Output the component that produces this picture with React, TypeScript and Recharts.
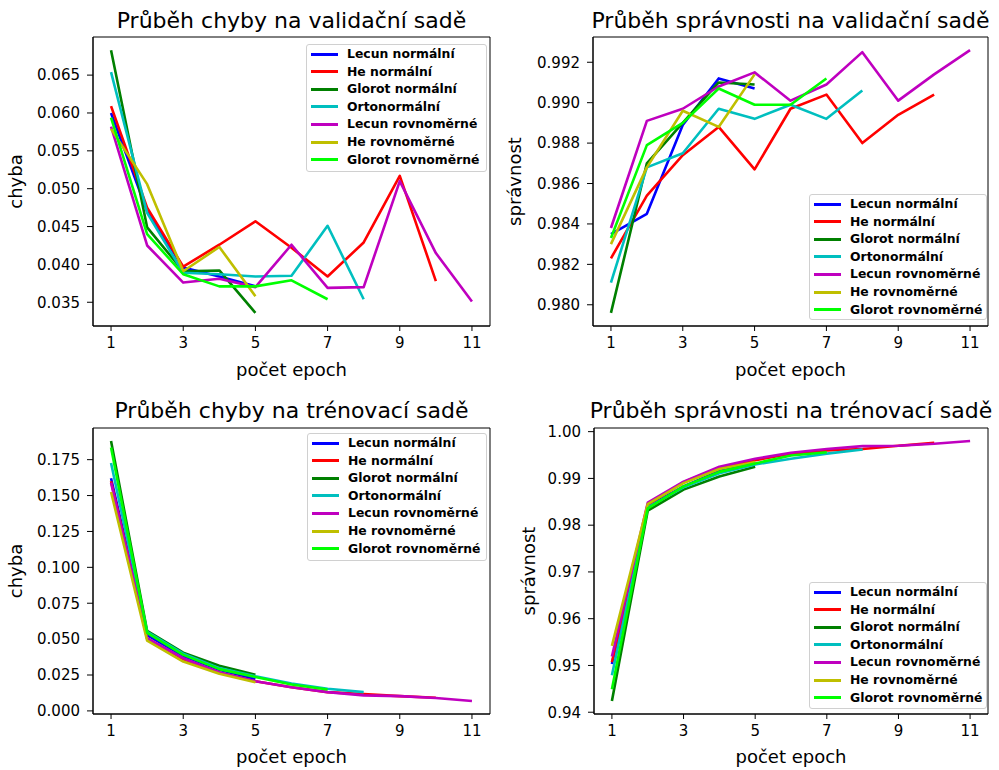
import React from 'react';
import { LineChart, Line, XAxis, YAxis, Legend, ReferenceArea } from 'recharts';

// ---------- categories / labels ----------
const EPOCHS = [1, 2, 3, 4, 5, 6, 7, 8, 9, 10, 11];
const X_TICKS = [1, 3, 5, 7, 9, 11];
const SERIES_NAMES = [
  'Lecun normální',
  'He normální',
  'Glorot normální',
  'Ortonormální',
  'Lecun rovnoměrné',
  'He rovnoměrné',
  'Glorot rovnoměrné',
];
const SERIES_COLORS = ['#0000ff', '#ff0000', '#008000', '#00bfbf', '#bf00bf', '#bfbf00', '#00ff00'];

// ---------- validation loss ----------
const VAL_LOSS_LECUN_N = [0.06, 0.047, 0.0396, 0.0384, 0.0371];
const VAL_LOSS_HE_N = [0.0609, 0.0475, 0.0397, 0.0426, 0.0457, 0.0422, 0.0384, 0.0429, 0.0517, 0.0378];
const VAL_LOSS_GLOROT_N = [0.0683, 0.0449, 0.0391, 0.0392, 0.0336];
const VAL_LOSS_ORTO = [0.0654, 0.0468, 0.0389, 0.0387, 0.0384, 0.0385, 0.0451, 0.0354];
const VAL_LOSS_LECUN_U = [0.0582, 0.0425, 0.0376, 0.0381, 0.037, 0.0426, 0.0369, 0.037, 0.051, 0.0415, 0.0351];
const VAL_LOSS_HE_U = [0.0579, 0.0506, 0.0391, 0.0423, 0.0358];
const VAL_LOSS_GLOROT_U = [0.0594, 0.044, 0.0387, 0.0371, 0.0371, 0.0379, 0.0354];
const VAL_LOSS_TICKS = [0.035, 0.04, 0.045, 0.05, 0.055, 0.06, 0.065];

// ---------- validation accuracy ----------
const VAL_ACC_LECUN_N = [0.9835, 0.9845, 0.9889, 0.9912, 0.9907];
const VAL_ACC_HE_N = [0.9823, 0.9854, 0.9874, 0.9888, 0.9867, 0.9897, 0.9904, 0.988, 0.9894, 0.9904];
const VAL_ACC_GLOROT_N = [0.9796, 0.987, 0.989, 0.991, 0.9909];
const VAL_ACC_ORTO = [0.9811, 0.9868, 0.9875, 0.9897, 0.9892, 0.9899, 0.9892, 0.9906];
const VAL_ACC_LECUN_U = [0.9838, 0.9891, 0.9897, 0.9908, 0.9915, 0.9901, 0.9909, 0.9925, 0.9901, 0.9914, 0.9926];
const VAL_ACC_HE_U = [0.983, 0.9868, 0.9896, 0.9888, 0.9914];
const VAL_ACC_GLOROT_U = [0.9833, 0.9879, 0.989, 0.9907, 0.9899, 0.9899, 0.9912];
const VAL_ACC_TICKS = [0.98, 0.982, 0.984, 0.986, 0.988, 0.99, 0.992];

// ---------- training loss ----------
const TR_LOSS_LECUN_N = [0.162, 0.0528, 0.0383, 0.0287, 0.0223];
const TR_LOSS_HE_N = [0.16, 0.0505, 0.036, 0.0268, 0.0206, 0.0165, 0.0131, 0.0117, 0.0103, 0.0092];
const TR_LOSS_GLOROT_N = [0.188, 0.0557, 0.0406, 0.0314, 0.0252];
const TR_LOSS_ORTO = [0.1727, 0.055, 0.0399, 0.0298, 0.0241, 0.019, 0.0154, 0.0131];
const TR_LOSS_LECUN_U = [0.159, 0.0505, 0.0367, 0.0268, 0.0206, 0.0165, 0.0131, 0.0108, 0.0103, 0.009, 0.0069];
const TR_LOSS_HE_U = [0.1525, 0.0489, 0.0344, 0.0259, 0.02];
const TR_LOSS_GLOROT_U = [0.1835, 0.0544, 0.039, 0.0291, 0.0236, 0.0184, 0.0149];
const TR_LOSS_TICKS = [0, 0.025, 0.05, 0.075, 0.1, 0.125, 0.15, 0.175];

// ---------- training accuracy ----------
const TR_ACC_LECUN_N = [0.9503, 0.984, 0.9883, 0.9916, 0.9934];
const TR_ACC_HE_N = [0.9507, 0.9844, 0.9892, 0.9923, 0.9939, 0.9953, 0.996, 0.9963, 0.997, 0.9976];
const TR_ACC_GLOROT_N = [0.9424, 0.9831, 0.9876, 0.9904, 0.9925];
const TR_ACC_ORTO = [0.9479, 0.9838, 0.9881, 0.9911, 0.993, 0.9942, 0.9953, 0.9962];
const TR_ACC_LECUN_U = [0.9519, 0.9848, 0.9893, 0.9925, 0.9942, 0.9955, 0.9963, 0.9969, 0.997, 0.9974, 0.998];
const TR_ACC_HE_U = [0.9542, 0.9845, 0.989, 0.992, 0.9935];
const TR_ACC_GLOROT_U = [0.9449, 0.9836, 0.9883, 0.9914, 0.9932, 0.9949, 0.9956];
const TR_ACC_TICKS = [0.94, 0.95, 0.96, 0.97, 0.98, 0.99, 1.0];

// ---------- helpers ----------
const FONT = '"DejaVu Sans", sans-serif';
const X_DOMAIN: [number, number] = [0.5, 11.5];

function buildRows(series: number[][]) {
  return EPOCHS.map((e, i) => {
    const row: Record<string, number> = { epoch: e };
    series.forEach((s, k) => {
      if (i < s.length) row['s' + k] = s[i];
    });
    return row;
  });
}

function padDomain(series: number[][]): [number, number] {
  const all = series.flat();
  const mn = Math.min(...all);
  const mx = Math.max(...all);
  const pad = (mx - mn) * 0.05;
  return [mn - pad, mx + pad];
}

type LegendBox = { left: number; top: number; width: number; height: number };

const LegendContent = () => (
  <div
    style={{
      position: 'relative',
      width: '100%',
      height: '100%',
      boxSizing: 'border-box',
      border: '1px solid #d0d0d0',
      borderRadius: 3,
      background: 'rgba(255,255,255,0.85)',
      fontFamily: FONT,
      fontWeight: 'bold',
      fontSize: 12.4,
      color: '#000',
    }}
  >
    {SERIES_NAMES.map((name, i) => (
      <div
        key={name}
        style={{
          position: 'absolute',
          left: 0,
          top: 9 + i * 17.6 - 8,
          height: 16,
          display: 'flex',
          alignItems: 'center',
          whiteSpace: 'nowrap',
        }}
      >
        <span
          style={{
            display: 'inline-block',
            marginLeft: 4,
            width: 27,
            height: 3,
            background: SERIES_COLORS[i],
          }}
        />
        <span style={{ marginLeft: 9, lineHeight: '16px' }}>{name}</span>
      </div>
    ))}
  </div>
);

type PanelProps = {
  x: number;
  y: number;
  width: number;
  height: number;
  marginTop: number;
  marginRight: number;
  yWidth: number;
  xHeight: number;
  series: number[][];
  yTicks: number[];
  yDigits: number;
  legend: LegendBox;
};

const Panel = (p: PanelProps) => {
  const rows = buildRows(p.series);
  const domain = padDomain(p.series);
  const tickStyle = { fontFamily: FONT, fontSize: 15, fill: '#000' };
  return (
    <div style={{ position: 'absolute', left: p.x, top: p.y, width: p.width, height: p.height }}>
      <LineChart
        width={p.width}
        height={p.height}
        data={rows}
        margin={{ top: p.marginTop, right: p.marginRight, left: 0, bottom: 0 }}
      >
        <XAxis
          dataKey="epoch"
          type="number"
          domain={X_DOMAIN}
          ticks={X_TICKS}
          interval={0}
          height={p.xHeight}
          tick={tickStyle}
          tickSize={5}
          tickMargin={6}
          axisLine={{ stroke: '#000', strokeWidth: 1 }}
          tickLine={{ stroke: '#000', strokeWidth: 1 }}
        />
        <YAxis
          type="number"
          domain={domain}
          ticks={p.yTicks}
          interval={0}
          width={p.yWidth}
          allowDataOverflow
          tick={tickStyle}
          tickSize={6}
          tickMargin={7}
          tickFormatter={(v: number) => v.toFixed(p.yDigits)}
          axisLine={{ stroke: '#000', strokeWidth: 1 }}
          tickLine={{ stroke: '#000', strokeWidth: 1 }}
        />
        <ReferenceArea
          x1={X_DOMAIN[0]}
          x2={X_DOMAIN[1]}
          y1={domain[0]}
          y2={domain[1]}
          fill="none"
          fillOpacity={0}
          stroke="#000"
          strokeWidth={1}
          ifOverflow="visible"
        />
        {SERIES_NAMES.map((name, k) => (
          <Line
            key={name}
            name={name}
            dataKey={'s' + k}
            stroke={SERIES_COLORS[k]}
            strokeWidth={2.6}
            dot={false}
            activeDot={false}
            strokeLinejoin="round"
            isAnimationActive={false}
          />
        ))}
        <Legend
          layout="vertical"
          align="center"
          verticalAlign="middle"
          content={() => <LegendContent />}
          wrapperStyle={{
            position: 'absolute',
            left: p.legend.left,
            top: p.legend.top,
            width: p.legend.width,
            height: p.legend.height,
          }}
        />
      </LineChart>
    </div>
  );
};

const TEXT_COLOR = '#000';

export default function App() {
  return (
    <div
      style={{
        position: 'absolute',
        left: 0,
        top: 0,
        width: 999,
        height: 770,
        background: '#fff',
        overflow: 'hidden',
      }}
    >
      <Panel
        x={0}
        y={0}
        width={500}
        height={390}
        marginTop={37}
        marginRight={10}
        yWidth={93}
        xHeight={64}
        series={[VAL_LOSS_LECUN_N, VAL_LOSS_HE_N, VAL_LOSS_GLOROT_N, VAL_LOSS_ORTO, VAL_LOSS_LECUN_U, VAL_LOSS_HE_U, VAL_LOSS_GLOROT_U]}
        yTicks={VAL_LOSS_TICKS}
        yDigits={3}
        legend={{ left: 306, top: 44, width: 181, height: 128 }}
      />
      <Panel
        x={500}
        y={0}
        width={499}
        height={390}
        marginTop={37}
        marginRight={11}
        yWidth={93}
        xHeight={64}
        series={[VAL_ACC_LECUN_N, VAL_ACC_HE_N, VAL_ACC_GLOROT_N, VAL_ACC_ORTO, VAL_ACC_LECUN_U, VAL_ACC_HE_U, VAL_ACC_GLOROT_U]}
        yTicks={VAL_ACC_TICKS}
        yDigits={3}
        legend={{ left: 309, top: 194, width: 178, height: 126 }}
      />
      <Panel
        x={0}
        y={390}
        width={500}
        height={380}
        marginTop={38}
        marginRight={10}
        yWidth={93}
        xHeight={56}
        series={[TR_LOSS_LECUN_N, TR_LOSS_HE_N, TR_LOSS_GLOROT_N, TR_LOSS_ORTO, TR_LOSS_LECUN_U, TR_LOSS_HE_U, TR_LOSS_GLOROT_U]}
        yTicks={TR_LOSS_TICKS}
        yDigits={3}
        legend={{ left: 307, top: 43, width: 180, height: 128 }}
      />
      <Panel
        x={500}
        y={390}
        width={499}
        height={380}
        marginTop={38}
        marginRight={11}
        yWidth={94}
        xHeight={56}
        series={[TR_ACC_LECUN_N, TR_ACC_HE_N, TR_ACC_GLOROT_N, TR_ACC_ORTO, TR_ACC_LECUN_U, TR_ACC_HE_U, TR_ACC_GLOROT_U]}
        yTicks={TR_ACC_TICKS}
        yDigits={2}
        legend={{ left: 309, top: 192, width: 178, height: 127 }}
      />
      <svg
        width={999}
        height={770}
        style={{ position: 'absolute', left: 0, top: 0, pointerEvents: 'none' }}
        fontFamily={FONT}
        fill={TEXT_COLOR}
      >
        <text x={291.5} y={28} fontSize={22} textAnchor="middle">Průběh chyby na validační sadě</text>
        <text x={790.5} y={28} fontSize={22} textAnchor="middle">Průběh správnosti na validační sadě</text>
        <text x={291.5} y={418} fontSize={22} textAnchor="middle">Průběh chyby na trénovací sadě</text>
        <text x={791} y={418} fontSize={22} textAnchor="middle">Průběh správnosti na trénovací sadě</text>

        <text x={291.5} y={375.5} fontSize={18} textAnchor="middle">počet epoch</text>
        <text x={790.5} y={375.5} fontSize={18} textAnchor="middle">počet epoch</text>
        <text x={291.5} y={762.5} fontSize={18} textAnchor="middle">počet epoch</text>
        <text x={791} y={762.5} fontSize={18} textAnchor="middle">počet epoch</text>

        <text x={22} y={181.5} fontSize={18} textAnchor="middle" transform="rotate(-90 22 181.5)">chyba</text>
        <text x={521} y={181.5} fontSize={18} textAnchor="middle" transform="rotate(-90 521 181.5)">správnost</text>
        <text x={22} y={571} fontSize={18} textAnchor="middle" transform="rotate(-90 22 571)">chyba</text>
        <text x={535} y={571} fontSize={18} textAnchor="middle" transform="rotate(-90 535 571)">správnost</text>
      </svg>
    </div>
  );
}
